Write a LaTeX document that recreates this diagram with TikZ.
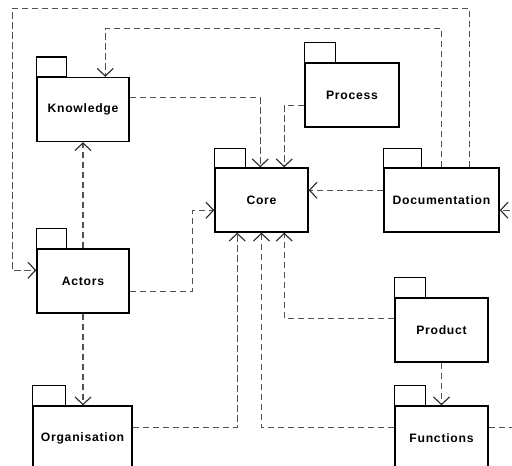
\documentclass[tikz,border=0pt]{standalone}
\usepackage{fontspec}
\setmainfont{Liberation Sans}
\newfontfamily\pkgfont{Liberation Sans}[LetterSpace=6]
\usetikzlibrary{arrows.meta}

\tikzset{
  pkg/.style={draw=black, line width=1.5pt, fill=white, rectangle,
    minimum width=#1, minimum height=64pt, inner sep=0pt,
    font=\pkgfont\fontsize{12.2pt}{14pt}\selectfont\bfseries},
  pkg/.default=93pt,
  tabbox/.style={draw=black, line width=1.5pt, fill=white},
  dep/.style={draw=black!68, line width=1.3pt, dash pattern=on 6.5pt off 3.5pt,
    -{Straight Barb[length=7.5pt, width=16pt, line width=1.1pt, color=black!85]}},
}

\begin{document}
\begin{tikzpicture}[x=1pt, y=-1pt]
  \clip (0,0) rectangle (512,466);
  \fill[white] (0,0) rectangle (512,466);

  % package bodies
  \node[pkg=92pt]  (know) at (83,109.5)  {Knowledge};
  \node[pkg=93pt]  (core) at (261.5,200) {Core};
  \node[pkg=94pt]  (proc) at (352,95)    {Process};
  \node[pkg=115pt] (doc)  at (441.5,200) {Documentation};
  \node[pkg=92pt]  (act)  at (83,281)    {Actors};
  \node[pkg=99pt]  (org)  at (82.5,438)  {Organisation};
  \node[pkg=93pt]  (prod) at (441.5,330) {Product};
  \node[pkg=93pt]  (func) at (441.5,438) {Functions};

  % package tabs
  \draw[tabbox] (know.north west) rectangle ++(30,-20);
  \draw[tabbox] (core.north west) rectangle ++(31,-19);
  \draw[tabbox] (proc.north west) rectangle ++(31,-20);
  \draw[tabbox] (doc.north west)  rectangle ++(38,-19);
  \draw[tabbox] (act.north west)  rectangle ++(30,-20);
  \draw[tabbox] (org.north west)  rectangle ++(33,-20);
  \draw[tabbox] (prod.north west) rectangle ++(31,-20);
  \draw[tabbox] (func.north west) rectangle ++(31,-20);

  % dependencies
  \draw[dep] ([yshift=-21pt]know.north east) -| ([xshift=46pt]core.north west);
  \draw[dep] ([yshift=-43pt]proc.north west) -| ([xshift=70pt]core.north west);
  \draw[dep] ([yshift=-23pt]doc.north west) -- ([yshift=-23pt]core.north east);
  \draw[dep] ([yshift=-43pt]act.north east) -- ++(63,0) |- ([yshift=-43pt]core.north west);
  \draw[dep] (act.north) -- (know.south);
  \draw[dep] (act.south) -- (act.south |- org.north);
  \draw[dep] ([yshift=-22pt]org.north east) -| ([xshift=23pt]core.south west);
  \draw[dep] ([yshift=-21pt]prod.north west) -| ([xshift=70pt]core.south west);
  \draw[dep] ([yshift=-22pt]func.north west) -| (core.south);
  \draw[dep] (prod.south) -- (func.north);
  \draw[dep] ([yshift=-22pt]func.north east) -- ++(32,0) |- ([yshift=-43pt]doc.north east);
  \draw[dep] ([xshift=58pt]doc.north west) -- ++(0,-139) -| ([xshift=69pt]know.north west);
  \draw[dep] ([xshift=86pt]doc.north west) -- ++(0,-159) -- ++(-457,0) |- ([yshift=-22pt]act.north west);
\end{tikzpicture}
\end{document}
